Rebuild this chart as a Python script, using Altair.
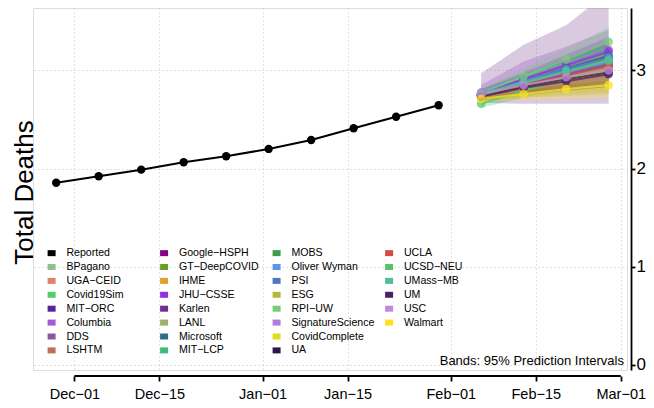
import altair as alt
import pandas as pd

FONT = "Liberation Sans"

# ---------------- data ----------------
report_dates = ["2020-11-28", "2020-12-05", "2020-12-12", "2020-12-19", "2020-12-26",
                "2021-01-02", "2021-01-09", "2021-01-16", "2021-01-23", "2021-01-30"]
report_vals = [1.856, 1.922, 1.989, 2.064, 2.125, 2.200, 2.291, 2.410, 2.528, 2.645]

fc_dates = ["2021-02-06", "2021-02-13", "2021-02-20", "2021-02-27"]

models = ["BPagano", "UGA−CEID", "Covid19Sim", "MIT−ORC", "Columbia", "DDS", "LSHTM",
          "Google−HSPH", "GT−DeepCOVID", "IHME", "JHU−CSSE", "Karlen", "LANL", "Microsoft",
          "MIT−LCP", "MOBS", "Oliver Wyman", "PSI", "ESG", "RPI−UW", "SignatureScience",
          "CovidComplete", "UA", "UCLA", "UCSD−NEU", "UMass−MB", "UM", "USC", "Walmart"]

model_colors = ["#8FBF8F", "#E0826A", "#55CC66", "#5522A0", "#A35AD6", "#8A5AA0", "#C07058",
                "#880088", "#6AA022", "#E0A030", "#9030E0", "#6E3090", "#A0B068", "#2E6E8C",
                "#3CBE78", "#3E9A4E", "#5E96E6", "#4E78BE", "#B4BA38", "#7CCA7C", "#B080D8",
                "#DDDD22", "#2E1848", "#D84848", "#55C464", "#50BE9A", "#4E2068", "#C08AE0",
                "#FFE020"]

med = [
    [2.75, 2.86, 2.97, 3.08],
    [2.75, 2.85, 2.95, 3.05],
    [2.66, 2.79, 2.92, 3.05],
    [2.76, 2.88, 3.00, 3.12],
    [2.77, 2.91, 3.06, 3.21],
    [2.75, 2.86, 2.96, 3.04],
    [2.74, 2.84, 2.94, 3.04],
    [2.76, 2.88, 3.01, 3.14],
    [2.75, 2.87, 2.99, 3.11],
    [2.74, 2.83, 2.92, 3.01],
    [2.77, 2.91, 3.05, 3.19],
    [2.75, 2.86, 2.96, 3.06],
    [2.74, 2.84, 2.93, 3.02],
    [2.76, 2.89, 3.02, 3.15],
    [2.75, 2.87, 2.99, 3.11],
    [2.75, 2.86, 2.98, 3.09],
    [2.76, 2.89, 3.01, 3.13],
    [2.75, 2.87, 2.97, 3.07],
    [2.74, 2.83, 2.92, 3.00],
    [2.77, 2.94, 3.11, 3.29],
    [2.76, 2.87, 2.98, 3.09],
    [2.73, 2.82, 2.91, 2.99],
    [2.74, 2.83, 2.91, 2.98],
    [2.75, 2.85, 2.95, 3.05],
    [2.75, 2.87, 2.99, 3.10],
    [2.76, 2.88, 2.99, 3.10],
    [2.73, 2.82, 2.89, 2.96],
    [2.76, 2.85, 2.93, 3.00],
    [2.71, 2.76, 2.81, 2.85],
]

lo = [
    [2.71, 2.79, 2.87, 2.95],
    [2.71, 2.78, 2.85, 2.92],
    [2.62, 2.72, 2.82, 2.92],
    [2.72, 2.81, 2.90, 2.99],
    [2.70, 2.78, 2.86, 2.94],
    [2.67, 2.66, 2.66, 2.66],
    [2.70, 2.76, 2.82, 2.88],
    [2.72, 2.81, 2.90, 2.99],
    [2.71, 2.80, 2.89, 2.97],
    [2.71, 2.78, 2.84, 2.90],
    [2.73, 2.84, 2.94, 3.04],
    [2.71, 2.78, 2.85, 2.92],
    [2.69, 2.72, 2.74, 2.76],
    [2.72, 2.82, 2.92, 3.01],
    [2.71, 2.80, 2.89, 2.97],
    [2.71, 2.79, 2.88, 2.96],
    [2.72, 2.82, 2.91, 3.00],
    [2.71, 2.80, 2.87, 2.94],
    [2.69, 2.73, 2.76, 2.78],
    [2.73, 2.86, 3.00, 3.14],
    [2.72, 2.80, 2.88, 2.96],
    [2.69, 2.75, 2.81, 2.86],
    [2.70, 2.76, 2.81, 2.85],
    [2.71, 2.78, 2.85, 2.92],
    [2.71, 2.80, 2.89, 2.97],
    [2.72, 2.81, 2.89, 2.97],
    [2.69, 2.75, 2.79, 2.83],
    [2.72, 2.79, 2.85, 2.90],
    [2.68, 2.70, 2.71, 2.72],
]

hi = [
    [2.79, 2.93, 3.07, 3.21],
    [2.79, 2.92, 3.05, 3.18],
    [2.70, 2.86, 3.02, 3.18],
    [2.80, 2.95, 3.10, 3.25],
    [2.85, 3.09, 3.24, 3.41],
    [2.97, 3.26, 3.46, 3.80],
    [2.78, 2.92, 3.06, 3.20],
    [2.80, 2.95, 3.12, 3.29],
    [2.79, 2.94, 3.09, 3.25],
    [2.77, 2.88, 3.00, 3.12],
    [2.81, 2.98, 3.16, 3.34],
    [2.79, 2.94, 3.07, 3.20],
    [2.79, 2.96, 3.12, 3.28],
    [2.80, 2.96, 3.12, 3.29],
    [2.79, 2.94, 3.09, 3.25],
    [2.79, 2.93, 3.08, 3.22],
    [2.80, 2.96, 3.11, 3.26],
    [2.79, 2.94, 3.07, 3.20],
    [2.79, 2.93, 3.08, 3.22],
    [2.81, 3.02, 3.22, 3.44],
    [2.80, 2.94, 3.08, 3.22],
    [2.77, 2.89, 3.01, 3.12],
    [2.78, 2.90, 3.01, 3.11],
    [2.79, 2.92, 3.05, 3.18],
    [2.79, 2.94, 3.09, 3.23],
    [2.80, 2.95, 3.09, 3.23],
    [2.77, 2.89, 2.99, 3.09],
    [2.80, 2.92, 3.02, 3.12],
    [2.74, 2.82, 2.91, 3.00],
]

tick_dates = [(2020, 12, 1), (2020, 12, 15), (2021, 1, 1), (2021, 1, 15),
              (2021, 2, 1), (2021, 2, 15), (2021, 3, 1)]
y_ticks = [0, 1, 2, 3]
y_title = "Total Deaths"
note_text = "Bands: 95% Prediction Intervals"

# ---------------- tables ----------------
rep_df = pd.DataFrame({"date": report_dates, "value": report_vals})
rows = []
for i, m in enumerate(models):
    for j, d in enumerate(fc_dates):
        rows.append({"model": m, "date": d, "med": med[i][j], "lo": lo[i][j], "hi": hi[i][j]})
fc_df = pd.DataFrame(rows)

# legend entries fill column by column (4 columns x 8 rows, two blank slots at the end)
dom = ["Reported"] + models + [" ", "  "]
rng = ["#000000"] + model_colors + ["transparent", "transparent"]

W, H = 594, 362

xscale = alt.Scale(type="utc",
                   domain=[alt.DateTime(year=2020, month=11, date=24, hours=4, minutes=19, utc=True),
                           alt.DateTime(year=2021, month=3, date=2, hours=0, minutes=43, utc=True)])
yscale = alt.Scale(domain=[-0.051, 3.635], nice=False, zero=False)
cscale = alt.Scale(domain=dom, range=rng)

x_vals = [alt.DateTime(year=y, month=m, date=d, utc=True) for (y, m, d) in tick_dates]

x_axis = alt.Axis(values=x_vals, title=None, offset=6, domain=False,
                  format="%b\u2212%d",
                  tickColor="black", tickWidth=1.8, tickSize=5,
                  labelFontSize=14.5, labelFont=FONT, labelColor="black", labelPadding=6,
                  labelFlush=False, labelOverlap=False,
                  grid=True, gridColor="#c4c4c4", gridDash=[1, 3], gridWidth=1)

y_axis_right = alt.Axis(orient="right", values=y_ticks, format="d", title=None, offset=4,
                        domainColor="black", domainWidth=1.8, tickColor="black", tickWidth=1.8,
                        tickSize=4, labelFontSize=17, labelFont=FONT, labelColor="black",
                        labelPadding=1, grid=True, gridColor="#c4c4c4", gridDash=[1, 3],
                        gridWidth=1)

y_axis_left = alt.Axis(orient="left", title=y_title, labels=False, ticks=False, domain=False,
                       grid=False, titleFontSize=26, titleFont=FONT, titleColor="black",
                       titleFontWeight="normal", titleAngle=270, titleX=-1, titleY=184,
                       titleBaseline="alphabetic", titleAlign="center")

legend = alt.Legend(orient="none", legendX=13.3, legendY=239.8, columns=4, gridAlign="all",
                    symbolType="M-1,-0.75H1V0.75H-1Z", symbolSize=64, symbolOpacity=1,
                    symbolStrokeWidth=0, labelFontSize=10.6, labelFont=FONT, labelColor="black",
                    labelOffset=9.5, columnPadding=8.5, rowPadding=2.9, title=None,
                    labelLimit=200, padding=0, symbolLimit=40)

bands = alt.Chart(fc_df).mark_area(opacity=0.32, clip=True).encode(
    x=alt.X("date:T", scale=xscale, axis=None),
    y=alt.Y("lo:Q", scale=yscale, axis=None),
    y2="hi:Q",
    color=alt.Color("model:N", scale=cscale, legend=None),
)

lines = alt.Chart(fc_df).mark_line(strokeWidth=2, opacity=0.75, clip=True).encode(
    x=alt.X("date:T", scale=xscale, axis=None),
    y=alt.Y("med:Q", scale=yscale, axis=None),
    color=alt.Color("model:N", scale=cscale, legend=None),
)

points = alt.Chart(fc_df).mark_circle(size=75, opacity=0.75, clip=True).encode(
    x=alt.X("date:T", scale=xscale, axis=x_axis),
    y=alt.Y("med:Q", scale=yscale, axis=y_axis_right),
    color=alt.Color("model:N", scale=cscale, legend=legend),
)

rep_line = alt.Chart(rep_df).mark_line(color="black", strokeWidth=2).encode(
    x=alt.X("date:T", scale=xscale, axis=None),
    y=alt.Y("value:Q", scale=yscale, axis=y_axis_left),
)

rep_pts = alt.Chart(rep_df).mark_circle(color="black", size=70, opacity=1).encode(
    x=alt.X("date:T", scale=xscale, axis=None),
    y=alt.Y("value:Q", scale=yscale, axis=None),
)

rule_df = pd.DataFrame({"start": ["2020-12-01"], "end": ["2021-03-01"]})
x_line = alt.Chart(rule_df).mark_rule(color="black", strokeWidth=1.8).encode(
    x=alt.X("start:T", scale=xscale, axis=None),
    x2="end:T",
    y=alt.value(H + 6),
)

note_df = pd.DataFrame({"note": [note_text]})
note = alt.Chart(note_df).mark_text(align="right", baseline="alphabetic", fontSize=13,
                                    font=FONT, color="black").encode(
    x=alt.value(W - 3), y=alt.value(357), text="note:N"
)

chart = alt.layer(bands, lines, points, rep_line, rep_pts, x_line, note).resolve_axis(
    x="independent", y="independent"
).resolve_legend(
    color="independent"
).properties(
    width=W, height=H,
    padding={"left": 25, "top": 0, "right": 19, "bottom": 30},
    autosize=alt.AutoSizeParams(type="none"),
).configure_view(stroke=None).configure(font=FONT, background="white")

chart.save("out.html", embed_options={"renderer": "svg", "actions": False})
